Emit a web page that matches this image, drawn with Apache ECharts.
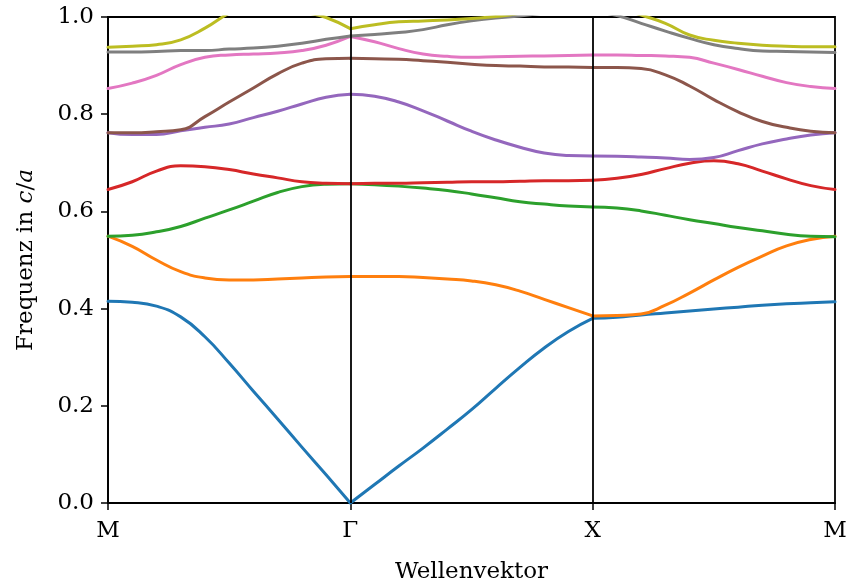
<!DOCTYPE html>
<html>
<head>
<meta charset="utf-8">
<script src="https://cdn.jsdelivr.net/npm/echarts@6/dist/echarts.min.js"></script>
<style>html,body{margin:0;padding:0;background:#fff}#c{width:850px;height:586px}</style>
</head>
<body>
<div id="c"></div>
<script>
// k-path positions (M=0, Γ=1, X=2, M=3)
const xPos = [0,0.1,0.2,0.3,0.4,0.5,0.6,0.7,0.8,0.9,1.0,
              1.1,1.2,1.3,1.4,1.5,1.6,1.7,1.8,1.9,2.0,
              2.1,2.2,2.3,2.4,2.5,2.6,2.7,2.8,2.9,3.0];
const xTickLabels = ['M','Γ','X','M'];
const yTickLabels = ['0.0','0.2','0.4','0.6','0.8','1.0'];

const band1 = [0.415,0.413,0.405,0.383,0.342,0.288,0.230,0.173,0.115,0.058,0.0,
               0.038,0.076,0.113,0.152,0.192,0.236,0.279,0.319,0.353,0.380,
               0.382,0.387,0.391,0.395,0.399,0.403,0.407,0.410,0.412,0.414];
const band2 = [0.549,0.528,0.500,0.476,0.463,0.459,0.459,0.461,0.463,0.465,0.466,
               0.466,0.466,0.464,0.461,0.457,0.449,0.436,0.419,0.402,0.385,
               0.386,0.389,0.407,0.432,0.459,0.485,0.508,0.529,0.542,0.549];
const band3 = [0.549,0.551,0.558,0.569,0.586,0.603,0.621,0.639,0.651,0.656,0.657,
               0.655,0.652,0.648,0.643,0.636,0.628,0.620,0.615,0.611,0.609,
               0.607,0.601,0.592,0.583,0.575,0.567,0.560,0.553,0.549,0.548];
const band4 = [0.645,0.661,0.683,0.694,0.692,0.686,0.677,0.669,0.661,0.658,0.657,
               0.658,0.658,0.659,0.660,0.661,0.661,0.662,0.663,0.663,0.664,
               0.668,0.676,0.688,0.699,0.704,0.698,0.683,0.667,0.653,0.645];
const band5 = [0.762,0.758,0.758,0.766,0.773,0.780,0.793,0.806,0.821,0.835,0.841,
               0.837,0.825,0.807,0.786,0.765,0.747,0.732,0.720,0.715,0.714,
               0.7135,0.712,0.710,0.707,0.711,0.725,0.739,0.749,0.757,0.762];
const band6 = [0.762,0.762,0.764,0.768,0.795,0.825,0.854,0.883,0.905,0.914,0.915,
               0.914,0.913,0.910,0.907,0.903,0.900,0.899,0.897,0.897,0.896,
               0.896,0.894,0.881,0.858,0.830,0.805,0.785,0.773,0.765,0.762];
const band7 = [0.853,0.864,0.880,0.902,0.917,0.922,0.924,0.926,0.931,0.942,0.960,
               0.949,0.935,0.924,0.919,0.917,0.918,0.919,0.920,0.921,0.922,
               0.922,0.921,0.920,0.917,0.905,0.892,0.878,0.865,0.857,0.853];
const band8 = [0.928,0.928,0.929,0.931,0.931,0.934,0.936,0.940,0.946,0.954,0.961,
               0.964,0.968,0.974,0.984,0.992,0.998,1.002,1.008,1.012,1.012,
               1.003,0.987,0.971,0.956,0.943,0.935,0.930,0.929,0.928,0.927];
const band9 = [0.938,0.940,0.943,0.953,0.977,1.008,1.030,1.030,1.012,0.999,0.976,
               0.984,0.990,0.992,0.994,0.997,1.001,1.008,1.020,1.030,1.035,
               1.020,1.004,0.987,0.963,0.952,0.946,0.942,0.940,0.939,0.939];

const bands = [band1,band2,band3,band4,band5,band6,band7,band8,band9];
const colors = ['#1f77b4','#ff7f0e','#2ca02c','#d62728','#9467bd','#8c564b','#e377c2','#7f7f7f','#bcbd22'];

const FONT = 'DejaVu Serif';
const FS = 23;

const series = [];
bands.forEach((b, bi) => {
  for (let s = 0; s < 3; s++) {
    const data = [];
    for (let i = 0; i <= 10; i++) data.push([xPos[10*s+i], b[10*s+i]]);
    series.push({
      type: 'line', data: data, showSymbol: false, symbol: 'none',
      smooth: 0.5, clip: true, silent: true, z: 2,
      lineStyle: {color: colors[bi], width: 3, cap: 'round', join: 'round'}
    });
  }
});
// vertical high-symmetry lines at Γ and X
series.push({
  type: 'line', data: [], silent: true, z: 5,
  markLine: {
    silent: true, symbol: ['none','none'], animation: false,
    label: {show: false},
    lineStyle: {color: '#000', width: 1.8, type: 'solid'},
    data: [{xAxis: 1}, {xAxis: 2}]
  }
});

const chart = echarts.init(document.getElementById('c'), null, {renderer: 'canvas'});
chart.setOption({
  animation: false,
  backgroundColor: '#fff',
  grid: {left: 108, right: 15, top: 17, bottom: 83, containLabel: false, outerBoundsMode: 'none',
         show: true, borderColor: '#000', borderWidth: 1.8, backgroundColor: 'transparent'},
  xAxis: {
    type: 'value', min: 0, max: 3, interval: 1,
    name: 'Wellenvektor', nameLocation: 'middle', nameGap: 58,
    nameTextStyle: {fontFamily: FONT, fontSize: FS, color: '#000'},
    axisLine: {lineStyle: {color: '#000', width: 1.8}},
    axisTick: {show: true, length: 7, lineStyle: {color: '#000', width: 1.5}},
    axisLabel: {fontFamily: FONT, fontSize: FS, color: '#000', margin: 17,
      formatter: v => xTickLabels[Math.round(v)]},
    splitLine: {show: false}
  },
  yAxis: {
    type: 'value', min: 0, max: 1, interval: 0.2,
    name: 'Frequenz in {i|c}/{i|a}', nameLocation: 'middle', nameGap: 70,
    nameTextStyle: {fontFamily: FONT, fontSize: FS, color: '#000',
      rich: {i: {fontFamily: FONT, fontSize: FS, fontStyle: 'italic', color: '#000'}}},
    axisLine: {lineStyle: {color: '#000', width: 1.8}},
    axisTick: {show: true, length: 7, lineStyle: {color: '#000', width: 1.5}},
    axisLabel: {fontFamily: FONT, fontSize: FS, color: '#000', margin: 14,
      formatter: v => yTickLabels[Math.round(v / 0.2)]},
    splitLine: {show: false}
  },
  series: series
});
</script>
</body>
</html>
